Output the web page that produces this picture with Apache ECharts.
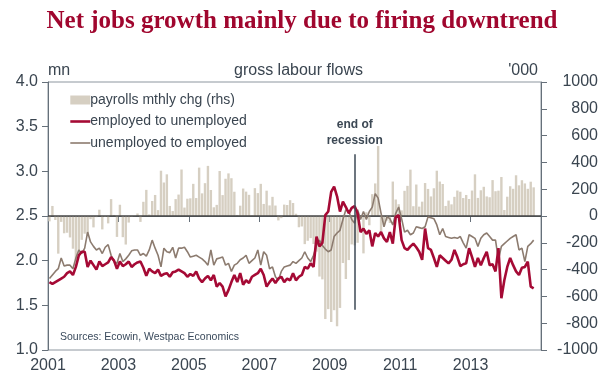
<!DOCTYPE html>
<html><head><meta charset="utf-8">
<script src="https://cdn.jsdelivr.net/npm/echarts@6/dist/echarts.min.js"></script>
<style>html,body{margin:0;padding:0;background:#fff}#c{width:604px;height:386px}</style>
</head><body><div id="c"></div>
<script>
// Monthly data, Jan 2001 .. Oct 2014
const startYear = 2001;
// payrolls monthly change, '000 (rhs)
const payrolls = [
  -40, 75, -30, -281, -44, -129, -125, -160, -244, -325, -292, -178,
  -132, -146, -24, -85, -9, 47, -100, -7, -55, 126, 8, -156,
  84, -158, -213, -49, -5, -1, 19, -44, 106, 195, 12, 112,
  157, 44, 338, 250, 311, 75, 37, 126, 160, 347, 63, 129,
  132, 240, 134, 361, 169, 245, 374, 194, 65, 83, 336, 156,
  278, 318, 282, 181, 8, 77, 205, 182, 158, 4, 208, 171,
  240, 90, 189, 79, 143, 78, -33, -16, 85, 82, 118, 97,
  17, -84, -78, -210, -185, -165, -209, -266, -452, -473, -769, -695,
  -791, -703, -823, -686, -351, -470, -329, -212, -219, -200, -7, -279,
  28, -69, 163, 243, 522, -133, -70, -34, -52, 257, 123, 88,
  42, 188, 225, 346, 73, 235, 70, 107, 246, 202, 146, 207,
  338, 257, 239, 75, 115, 87, 143, 190, 181, 134, 157, 127,
  190, 311, 135, 192, 218, 146, 140, 268, 185, 189, 291, 45,
  144, 222, 203, 304, 229, 267, 243, 203, 256, 214
];
// employed to unemployed, mn
const empToUnemp = [
  1.76,1.74,1.76,1.78,1.80,1.82,1.86,1.88,1.84,1.93,2.06,2.10,
  2.10,1.93,2.00,1.95,1.90,1.99,1.94,1.96,1.98,2.04,2.00,1.91,
  1.99,1.94,1.96,1.99,1.93,1.96,1.98,1.99,1.92,1.83,1.91,1.88,
  1.86,1.90,1.83,1.85,1.86,1.82,1.87,1.88,1.90,1.88,1.86,1.82,
  1.85,1.83,1.88,1.80,1.76,1.80,1.83,1.78,1.84,1.71,1.75,1.71,
  1.60,1.67,1.76,1.84,1.76,1.86,1.73,1.78,1.75,1.82,1.84,1.86,
  1.91,1.84,1.71,1.76,1.80,1.75,1.80,1.82,1.76,1.80,1.78,1.86,
  1.78,1.82,1.84,1.93,1.91,1.97,1.93,2.27,2.16,2.20,2.51,2.55,
  2.77,2.83,2.72,2.55,2.66,2.60,2.53,2.59,2.61,2.53,2.32,2.36,
  2.30,2.34,2.16,2.31,2.27,2.32,2.25,2.21,2.32,2.19,2.49,2.51,
  2.23,2.14,2.12,2.16,2.19,2.15,2.10,2.01,2.36,2.14,2.12,2.03,
  1.93,2.06,2.03,2.00,1.97,2.01,2.12,2.04,1.94,1.96,1.97,2.14,
  2.04,1.93,2.03,1.95,2.03,2.10,1.95,1.96,1.88,2.14,1.58,1.78,
  1.93,2.03,1.95,1.88,1.84,1.92,1.93,1.99,1.71,1.69
];
// unemployed to employed, mn
const unempToEmp = [
  1.80,1.84,1.88,1.91,2.03,1.94,1.95,1.95,1.91,2.03,2.12,2.08,
  2.14,2.32,2.21,2.16,2.12,2.14,2.08,2.15,2.18,2.06,1.99,1.97,
  2.08,1.99,2.02,2.06,2.11,2.12,2.12,2.06,2.08,2.05,2.12,2.23,
  2.14,2.06,1.93,2.14,2.10,2.09,2.15,2.03,2.14,2.14,2.15,2.10,
  2.04,2.05,2.06,2.04,2.02,1.99,1.95,2.12,1.95,2.02,2.03,2.04,
  1.95,1.97,1.88,1.95,1.97,2.01,2.03,2.06,1.97,2.00,2.03,2.12,
  1.95,2.10,2.06,1.91,1.93,1.82,1.78,1.88,1.93,1.94,1.95,1.99,
  1.97,2.00,2.03,2.10,2.03,1.99,2.06,2.17,2.23,2.17,2.13,2.10,
  2.12,2.27,2.31,2.34,2.46,2.57,2.55,2.46,2.42,2.57,2.46,2.55,
  2.46,2.55,2.60,2.75,2.70,2.53,2.38,2.49,2.47,2.40,2.53,2.60,
  2.47,2.32,2.34,2.29,2.31,2.38,2.37,2.36,2.38,2.49,2.48,2.47,
  2.40,2.29,2.36,2.27,2.26,2.25,2.26,2.25,2.27,2.20,2.14,2.29,
  2.27,2.25,2.16,2.25,2.29,2.31,2.27,2.23,2.23,2.01,2.16,2.19,
  2.22,2.25,2.27,2.29,2.12,2.14,1.99,2.16,2.19,2.23
];
const seriesNames = ['payrolls mthly chg (rhs)', 'employed to unemployed', 'unemployed to employed'];
const recessionEnd = 2009.71;
const recessionSpan = [3.19, 1.45];

function monthX(i) { return startYear + (i + 0.5) / 12; }
const txt = '#3a4550';
const axisCol = '#66707a';
const redCol = '#a50a35';
const brownCol = '#8c7b6f';
const FONT = "'Liberation Sans', Arial, sans-serif";

const chart = echarts.init(document.getElementById('c'), null, {renderer: 'canvas'});
chart.setOption({
  animation: false,
  backgroundColor: '#ffffff',
  textStyle: {fontFamily: FONT},
  title: {
    text: 'Net jobs growth mainly due to firing downtrend',
    left: 'center', top: 4,
    textStyle: {fontFamily: "'Liberation Serif', 'Times New Roman', serif", fontWeight: 'bold', fontSize: 25, color: '#a0062e'}
  },
  grid: {left: 48, right: 63, top: 82, bottom: 36, show: true, borderColor: '#8d969f', borderWidth: 1, backgroundColor: 'transparent'},
  legend: {
    orient: 'vertical', left: 69, top: 93, padding: 0,
    itemWidth: 20, itemHeight: 9, itemGap: 7.5,
    textStyle: {fontSize: 14, color: txt, lineHeight: 14, fontFamily: FONT, padding: [0, 0, 0, -5]},
    data: [
      {name: seriesNames[0], icon: 'rect'},
      {name: seriesNames[1], itemStyle: {opacity: 0}, lineStyle: {color: redCol, width: 2.6, opacity: 1}},
      {name: seriesNames[2], itemStyle: {opacity: 0}, lineStyle: {color: brownCol, width: 1.6, opacity: 1}}
    ]
  },
  xAxis: {
    type: 'value', min: 2001, max: 2015, interval: 2,
    axisLine: {show: true, lineStyle: {color: axisCol, width: 1}},
    axisTick: {show: true, length: 6, lineStyle: {color: axisCol}},
    axisLabel: {fontSize: 16, color: txt, margin: 8, fontFamily: FONT,
      formatter: v => (v <= 2013 ? String(v) : '')},
    splitLine: {show: false}
  },
  yAxis: [
    {
      type: 'value', min: 1, max: 4, interval: 0.5, position: 'left',
      name: 'mn', nameLocation: 'end', nameGap: 3,
      nameTextStyle: {align: 'left', verticalAlign: 'bottom', fontSize: 16, color: txt, fontFamily: FONT},
      axisLine: {show: true, lineStyle: {color: axisCol, width: 1}},
      axisTick: {show: true, length: 6, lineStyle: {color: axisCol}},
      axisLabel: {fontSize: 16, color: txt, margin: 10, fontFamily: FONT, formatter: v => v.toFixed(1)},
      splitLine: {show: false}
    },
    {
      type: 'value', min: -1000, max: 1000, interval: 200, position: 'right',
      name: "'000", nameLocation: 'end', nameGap: 3,
      nameTextStyle: {align: 'right', verticalAlign: 'bottom', fontSize: 16, color: txt, fontFamily: FONT, padding: [0, 3, 0, 0]},
      axisLine: {show: true, lineStyle: {color: axisCol, width: 1}},
      axisTick: {show: true, length: 6, lineStyle: {color: axisCol}},
      axisLabel: {fontSize: 16, color: txt, margin: 57, align: 'right', fontFamily: FONT, formatter: v => String(v)},
      splitLine: {show: false}
    }
  ],
  graphic: [
    {type: 'text', left: 234, top: 63, style: {text: 'gross labour flows', font: "16px 'Liberation Sans', Arial", fill: txt}},
    {type: 'text', left: 60, top: 332, style: {text: 'Sources: Ecowin, Westpac Economics', font: "10.5px 'Liberation Sans', Arial", fill: '#3a4a5c'}}
  ],
  series: [
    {
      name: seriesNames[0], type: 'bar', yAxisIndex: 1, barWidth: 2.4,
      itemStyle: {color: '#d6cfc2'}, z: 1,
      data: payrolls.map((v, i) => [monthX(i), v]),
      markLine: {
        symbol: 'none', silent: true, z: 2,
        lineStyle: {color: '#444444', width: 1.5, type: 'solid'},
        label: {show: false},
        data: [{yAxis: 0}]
      }
    },
    {
      name: seriesNames[2], type: 'line', yAxisIndex: 0, symbol: 'none', z: 3,
      lineStyle: {color: brownCol, width: 1.6}, itemStyle: {color: brownCol},
      data: unempToEmp.map((v, i) => [monthX(i), v]),
      markLine: {
        symbol: 'none', silent: true,
        lineStyle: {color: '#3c4854', width: 1.5, type: 'solid'},
        label: {show: true, position: 'start', formatter: 'end of\nrecession', fontSize: 12, fontWeight: 'bold',
          lineHeight: 16, color: '#3c4854', distance: 6, fontFamily: FONT},
        data: [[{coord: [recessionEnd, recessionSpan[0]]}, {coord: [recessionEnd, recessionSpan[1]]}]]
      }
    },
    {
      name: seriesNames[1], type: 'line', yAxisIndex: 0, symbol: 'none', z: 4,
      lineStyle: {color: redCol, width: 2.6}, itemStyle: {color: redCol},
      data: empToUnemp.map((v, i) => [monthX(i), v])
    }
  ]
});
</script>
</body></html>
